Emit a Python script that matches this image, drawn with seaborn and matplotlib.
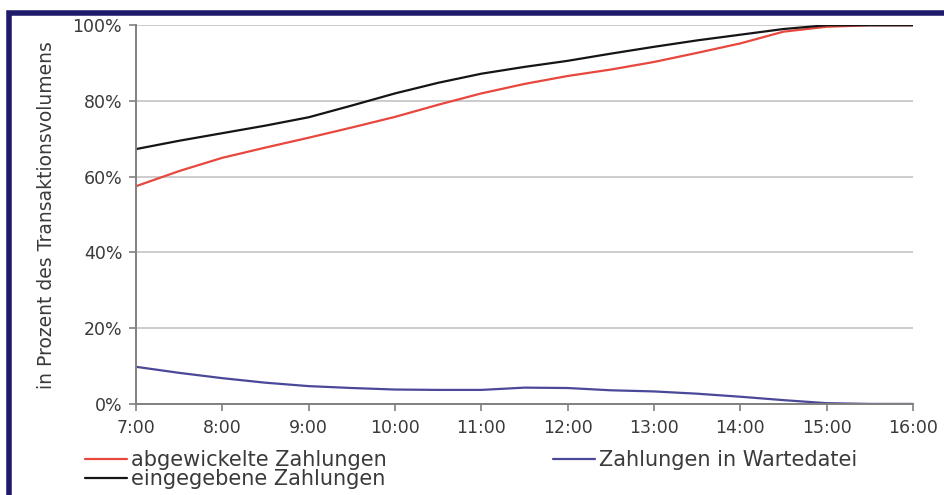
import numpy as np
import pandas as pd
import seaborn as sns
import matplotlib.pyplot as plt
from matplotlib.patches import Rectangle
from matplotlib.ticker import FuncFormatter

# Uhrzeit in Stunden (halbstündlich)
zeit = [7.0, 7.5, 8.0, 8.5, 9.0, 9.5, 10.0, 10.5, 11.0, 11.5, 12.0,
        12.5, 13.0, 13.5, 14.0, 14.5, 15.0, 15.5, 16.0]
abgewickelt = [57.5, 61.5, 65.0, 67.7, 70.3, 73.0, 75.8, 79.0, 82.0, 84.5, 86.6,
               88.3, 90.3, 92.7, 95.2, 98.3, 99.6, 100.0, 100.0]
eingegeben = [67.3, 69.5, 71.5, 73.5, 75.7, 78.8, 82.0, 84.8, 87.2, 89.0, 90.6,
              92.5, 94.3, 96.0, 97.5, 99.0, 100.0, 100.0, 100.0]
wartedatei = [9.8, 8.2, 6.8, 5.6, 4.7, 4.2, 3.8, 3.7, 3.7, 4.3, 4.2,
              3.6, 3.3, 2.7, 1.9, 1.0, 0.2, 0.0, 0.0]
x_ticks = list(range(7, 17))
x_labels = [f"{h}:00" for h in x_ticks]
y_ticks = [0, 20, 40, 60, 80, 100]

serien = {
    "abgewickelte Zahlungen": abgewickelt,
    "eingegebene Zahlungen": eingegeben,
    "Zahlungen in Wartedatei": wartedatei,
}
df = pd.concat(
    [pd.DataFrame({"Zeit": zeit, "Wert": v, "Serie": k}) for k, v in serien.items()],
    ignore_index=True,
)
farben = {
    "abgewickelte Zahlungen": "#e8473e",
    "eingegebene Zahlungen": "#151515",
    "Zahlungen in Wartedatei": "#4a4898",
}

sns.set_style("white")
plt.rcParams["font.family"] = ["DejaVu Sans"]

fig = plt.figure(figsize=(9.45, 4.95), dpi=100)
ax = fig.add_axes([0.144, 0.184, 0.822, 0.765])

ax.grid(axis="y", color="#c4c4c4", linewidth=1.2)
ax.set_axisbelow(True)
sns.lineplot(data=df, x="Zeit", y="Wert", hue="Serie", palette=farben,
             linewidth=1.6, ax=ax, legend=True)

ax.set_xlim(7, 16)
ax.set_ylim(0, 100)
ax.set_xticks(x_ticks)
ax.set_xticklabels(x_labels)
ax.set_yticks(y_ticks)
ax.yaxis.set_major_formatter(FuncFormatter(lambda v, p: f"{v:.0f}%"))
ax.tick_params(axis="both", labelsize=12.5, colors="#808080", labelcolor="#3a3a3a",
               length=5, width=1.2, direction="out", bottom=True, left=True)
ax.tick_params(axis="y", pad=5)
ax.tick_params(axis="x", pad=6)
ax.set_xlabel("")
ax.set_ylabel("in Prozent des Transaktionsvolumens", fontsize=13.5, color="#3a3a3a",
              labelpad=12)
for s in ["top", "right"]:
    ax.spines[s].set_visible(False)
for s in ["left", "bottom"]:
    ax.spines[s].set_color("#808080")
    ax.spines[s].set_linewidth(1.4)

handles, labels = ax.get_legend_handles_labels()
ax.get_legend().remove()
fig.legend(handles, labels, loc="upper left", bbox_to_anchor=(0.09, 0.091),
           ncol=2, frameon=False, fontsize=15, handlelength=2.0,
           handletextpad=0.2, columnspacing=8.0, labelspacing=-0.05,
           borderaxespad=0, borderpad=0, labelcolor="#3a3a3a")

# dunkelblauer Rahmen oben und links
fig.patches.append(Rectangle((9.5 / 945, -0.1), 1.2, 1.1 - 12.5 / 495,
                             transform=fig.transFigure, fill=False,
                             edgecolor="#1e1b6a", linewidth=4, figure=fig))

fig.savefig("out.png", dpi=100, facecolor="white")
